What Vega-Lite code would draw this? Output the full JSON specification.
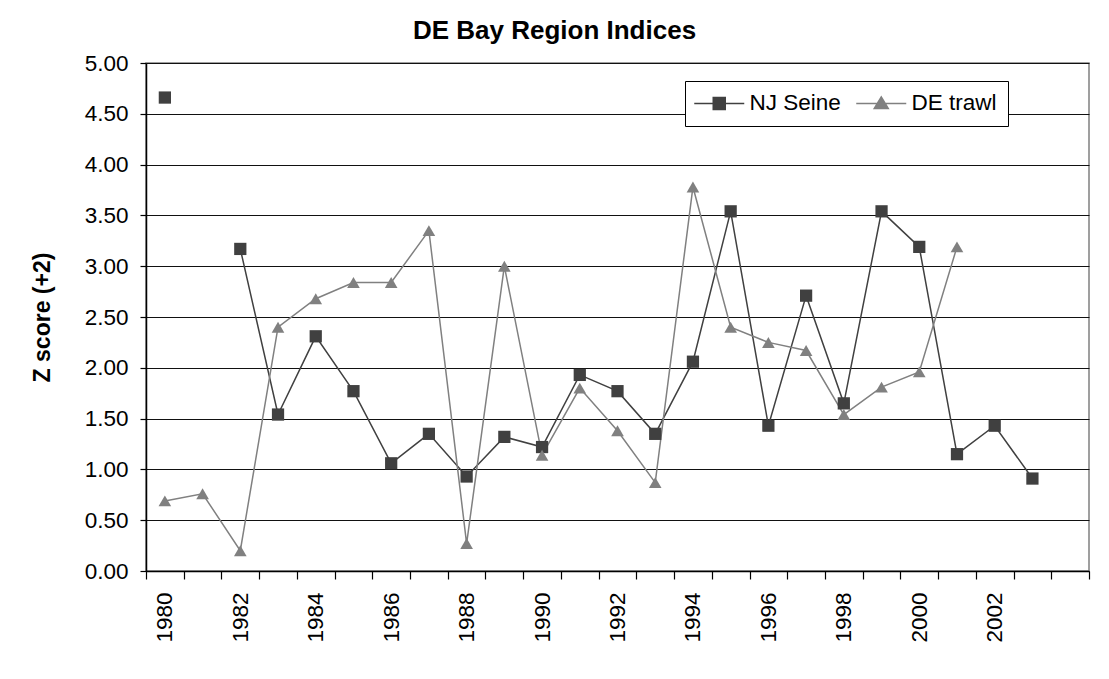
{
  "$schema": "https://vega.github.io/schema/vega-lite/v6.json",
  "width": 943,
  "height": 508,
  "autosize": {"type": "none"},
  "padding": {"left": 146, "top": 63, "right": 20, "bottom": 108},
  "background": "white",
  "title": {"text": "DE Bay Region Indices", "fontSize": 26, "font": "Liberation Sans", "fontWeight": "bold", "color": "black", "anchor": "middle", "dx": -63, "dy": 37, "offset": 24, "baseline": "alphabetic"},
  "config": {"view": {"stroke": "#808080", "strokeWidth": 1.5}},
  "data": {"values": [
    {"year": "1980", "series": "NJ Seine", "z": 4.66},
    {"year": "1981", "series": "NJ Seine", "z": null},
    {"year": "1982", "series": "NJ Seine", "z": 3.17},
    {"year": "1983", "series": "NJ Seine", "z": 1.54},
    {"year": "1984", "series": "NJ Seine", "z": 2.31},
    {"year": "1985", "series": "NJ Seine", "z": 1.77},
    {"year": "1986", "series": "NJ Seine", "z": 1.06},
    {"year": "1987", "series": "NJ Seine", "z": 1.35},
    {"year": "1988", "series": "NJ Seine", "z": 0.93},
    {"year": "1989", "series": "NJ Seine", "z": 1.32},
    {"year": "1990", "series": "NJ Seine", "z": 1.22},
    {"year": "1991", "series": "NJ Seine", "z": 1.93},
    {"year": "1992", "series": "NJ Seine", "z": 1.77},
    {"year": "1993", "series": "NJ Seine", "z": 1.35},
    {"year": "1994", "series": "NJ Seine", "z": 2.06},
    {"year": "1995", "series": "NJ Seine", "z": 3.54},
    {"year": "1996", "series": "NJ Seine", "z": 1.43},
    {"year": "1997", "series": "NJ Seine", "z": 2.71},
    {"year": "1998", "series": "NJ Seine", "z": 1.65},
    {"year": "1999", "series": "NJ Seine", "z": 3.54},
    {"year": "2000", "series": "NJ Seine", "z": 3.19},
    {"year": "2001", "series": "NJ Seine", "z": 1.15},
    {"year": "2002", "series": "NJ Seine", "z": 1.43},
    {"year": "2003", "series": "NJ Seine", "z": 0.91},
    {"year": "1980", "series": "DE trawl", "z": 0.69},
    {"year": "1981", "series": "DE trawl", "z": 0.76},
    {"year": "1982", "series": "DE trawl", "z": 0.20},
    {"year": "1983", "series": "DE trawl", "z": 2.40},
    {"year": "1984", "series": "DE trawl", "z": 2.68},
    {"year": "1985", "series": "DE trawl", "z": 2.84},
    {"year": "1986", "series": "DE trawl", "z": 2.84},
    {"year": "1987", "series": "DE trawl", "z": 3.35},
    {"year": "1988", "series": "DE trawl", "z": 0.27},
    {"year": "1989", "series": "DE trawl", "z": 3.00},
    {"year": "1990", "series": "DE trawl", "z": 1.14},
    {"year": "1991", "series": "DE trawl", "z": 1.80},
    {"year": "1992", "series": "DE trawl", "z": 1.38},
    {"year": "1993", "series": "DE trawl", "z": 0.87},
    {"year": "1994", "series": "DE trawl", "z": 3.78},
    {"year": "1995", "series": "DE trawl", "z": 2.40},
    {"year": "1996", "series": "DE trawl", "z": 2.25},
    {"year": "1997", "series": "DE trawl", "z": 2.17},
    {"year": "1998", "series": "DE trawl", "z": 1.54},
    {"year": "1999", "series": "DE trawl", "z": 1.81},
    {"year": "2000", "series": "DE trawl", "z": 1.96},
    {"year": "2001", "series": "DE trawl", "z": 3.19}
  ]},
  "encoding": {
    "x": {
      "field": "year", "type": "ordinal",
      "scale": {"type": "band", "domain": ["1980","1981","1982","1983","1984","1985","1986","1987","1988","1989","1990","1991","1992","1993","1994","1995","1996","1997","1998","1999","2000","2001","2002","2003","2004"], "paddingInner": 0, "paddingOuter": 0},
      "axis": {"title": null, "labelAngle": -90, "labelFontSize": 22.5, "labelFont": "Liberation Sans", "labelColor": "black",
        "labelExpr": "(toNumber(datum.value) % 2 == 0 && toNumber(datum.value) <= 2002) ? datum.value : ''",
        "tickBand": "extent", "tickSize": 8, "tickColor": "black", "tickWidth": 1.2, "domainColor": "black", "domainWidth": 1.5,
        "labelPadding": 13, "grid": false, "labelOverlap": false}
    },
    "y": {
      "field": "z", "type": "quantitative",
      "scale": {"domain": [0, 5], "nice": false, "zero": true},
      "axis": {"title": "Z score (+2)", "titleFontSize": 23, "titleFont": "Liberation Sans", "titleFontWeight": "bold", "titleColor": "black", "titlePadding": 30,
        "values": [0, 0.5, 1, 1.5, 2, 2.5, 3, 3.5, 4, 4.5, 5], "format": ".2f",
        "labelFontSize": 22.5, "labelFont": "Liberation Sans", "labelColor": "black", "labelPadding": 12,
        "tickSize": 6, "tickColor": "black", "tickWidth": 1.2, "domainColor": "black", "domainWidth": 1.5,
        "grid": true, "gridColor": "#111111", "gridWidth": 1}
    },
    "color": {
      "field": "series", "type": "nominal",
      "scale": {"domain": ["NJ Seine", "DE trawl"], "range": ["#404040", "#808080"]},
      "legend": {
        "orient": "none", "legendX": 539, "legendY": 18, "direction": "horizontal", "title": null,
        "labelFontSize": 22.5, "labelFont": "Liberation Sans", "labelColor": "black",
        "strokeColor": "black", "fillColor": "white", "padding": 11,
        "symbolSize": 400, "symbolOffset": 12, "labelOffset": 19, "columnPadding": 12, "symbolStrokeWidth": 1.5, "symbolOpacity": 1,
        "encode": {"symbols": {"update": {
          "shape": {"signal": "datum.value == 'NJ Seine' ? 'M-2.5,0H2.5M-0.6,-0.6H0.6V0.6H-0.6Z' : 'M-2.5,0H2.5M0,-0.65L0.7,0.5H-0.7Z'"},
          "fill": {"signal": "datum.value == 'NJ Seine' ? '#404040' : '#808080'"},
          "stroke": {"signal": "datum.value == 'NJ Seine' ? '#404040' : '#808080'"},
          "strokeWidth": {"value": 1.5},
          "opacity": {"value": 1}
        }}}
      }
    }
  },
  "layer": [
    {"mark": {"type": "line", "strokeWidth": 1.5, "invalid": "break-paths-filter-domains"}},
    {"transform": [{"filter": "datum.series == 'NJ Seine'"}],
     "mark": {"type": "point", "shape": "square", "filled": true, "opacity": 1, "strokeWidth": 0, "size": 150}},
    {"transform": [{"filter": "datum.series == 'DE trawl'"}],
     "mark": {"type": "point", "shape": "triangle-up", "filled": true, "opacity": 1, "strokeWidth": 0, "size": 160}}
  ]
}
